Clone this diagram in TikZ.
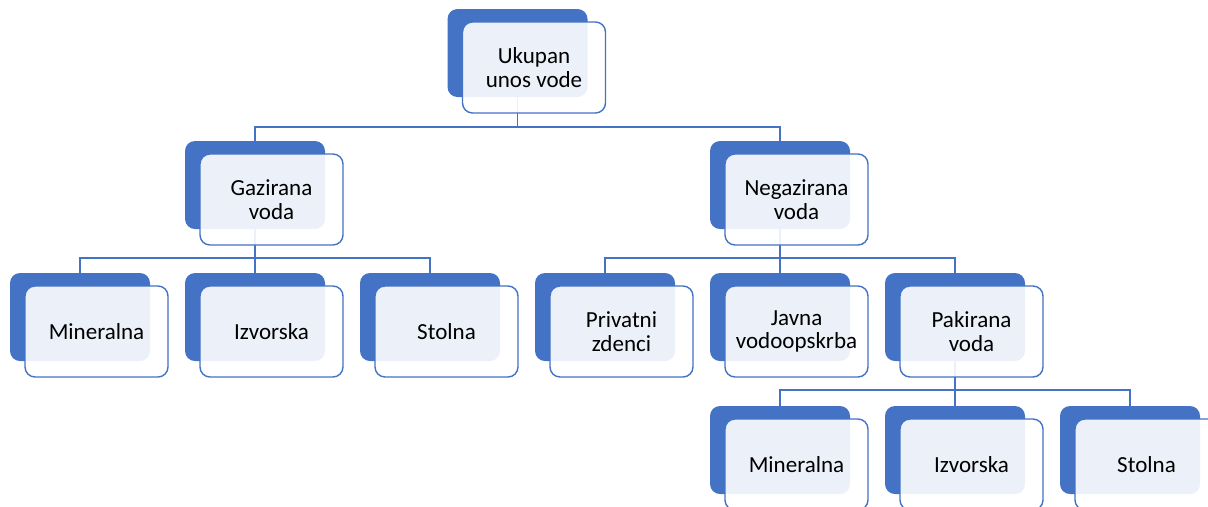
\documentclass[tikz,border=0pt]{standalone}
\usepackage{fontspec}
\setmainfont{Carlito}
\usetikzlibrary{positioning}

\definecolor{smartblue}{HTML}{4472C4}

\tikzset{
    backbox/.style={rectangle, rounded corners=0.2cm, fill=smartblue, draw=none,
        minimum width=2.8cm, minimum height=1.76cm, inner sep=0pt},
    frontbox/.style={rectangle, rounded corners=0.2cm, draw=smartblue, line width=0.8pt,
        fill=white, fill opacity=0.9, text opacity=1, text=black,
        minimum width=2.86cm, minimum height=1.82cm, inner sep=0pt, align=center,
        font=\fontsize{13.1}{13.3}\selectfont},
}

\begin{document}
\begin{tikzpicture}[]

\useasboundingbox[clip] (0,0) rectangle (24.16,-10.12);

\begin{scope}[every node/.style={backbox}]
    \node (rootB) at (10.35,-1.06) {};
    \node (gazB) at (5.1,-3.70) {};
    \node (negB) at (15.6,-3.70) {};
    \node (min1B) at (1.6,-6.34) {};
    \node (izv1B) at (5.1,-6.34) {};
    \node (sto1B) at (8.6,-6.34) {};
    \node (privB) at (12.1,-6.34) {};
    \node (javB) at (15.6,-6.34) {};
    \node (pakB) at (19.1,-6.34) {};
    \node (min2B) at (15.6,-9.0) {};
    \node (izv2B) at (19.1,-9.0) {};
    \node (sto2B) at (22.6,-9.0) {};
\end{scope}

\coordinate (bus1) at (0,-2.54);
\coordinate (bus2) at (0,-5.16);
\coordinate (bus3) at (0,-7.80);

\begin{scope}[draw=smartblue, line width=0.8pt]
    \draw (rootB.south) -- (rootB.south |- bus1) -| (gazB.north);
    \draw (rootB.south) -- (rootB.south |- bus1) -| (negB.north);

    \draw (gazB.south) -- (gazB.south |- bus2) -| (min1B.north);
    \draw (gazB.south) -- (gazB.south |- bus2) -| (izv1B.north);
    \draw (gazB.south) -- (gazB.south |- bus2) -| (sto1B.north);

    \draw (negB.south) -- (negB.south |- bus2) -| (privB.north);
    \draw (negB.south) -- (negB.south |- bus2) -| (javB.north);
    \draw (negB.south) -- (negB.south |- bus2) -| (pakB.north);

    \draw (pakB.south) -- (pakB.south |- bus3) -| (min2B.north);
    \draw (pakB.south) -- (pakB.south |- bus3) -| (izv2B.north);
    \draw (pakB.south) -- (pakB.south |- bus3) -| (sto2B.north);
\end{scope}

\begin{scope}[shift={(0.33,-0.29)}, every node/.style={frontbox}]
    \node (root) at (10.35,-1.06) {Ukupan\\unos vode};
    \node (gaz) at (5.1,-3.70) {Gazirana\\voda};
    \node (neg) at (15.6,-3.70) {Negazirana\\voda};
    \node (min1) at (1.6,-6.34) {Mineralna};
    \node (izv1) at (5.1,-6.34) {Izvorska};
    \node (sto1) at (8.6,-6.34) {Stolna};
    \node (priv) at (12.1,-6.34) {Privatni\\zdenci};
    \node (jav) at (15.6,-6.34) {Javna\\vodoopskrba};
    \node (pak) at (19.1,-6.34) {Pakirana\\voda};
    \node (min2) at (15.6,-9.0) {Mineralna};
    \node (izv2) at (19.1,-9.0) {Izvorska};
    \node (sto2) at (22.6,-9.0) {Stolna};
\end{scope}

\end{tikzpicture}
\end{document}
